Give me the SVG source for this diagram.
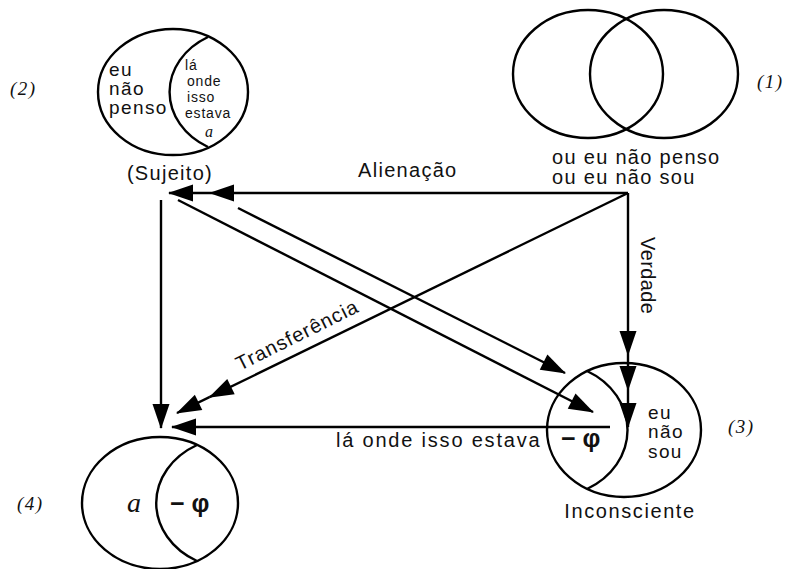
<svg xmlns="http://www.w3.org/2000/svg" width="787" height="569" viewBox="0 0 787 569">
<style>
.ln{fill:none;stroke:#000;stroke-width:2.4}
.sh{fill:none;stroke:#000;stroke-width:2.4}
.t{font-family:"Liberation Sans",Arial,sans-serif;font-size:20px;letter-spacing:1.3px;fill:#111}
.c{font-family:"Liberation Sans",Arial,sans-serif;font-size:19px;letter-spacing:1.4px;fill:#111}
.s{font-family:"Liberation Sans",Arial,sans-serif;font-size:14px;letter-spacing:0.8px;fill:#111}
.n{font-family:"Liberation Serif","Times New Roman",serif;font-style:italic;font-size:19px;letter-spacing:1.5px;fill:#111}
.ia{font-family:"Liberation Serif","Times New Roman",serif;font-style:italic;font-size:28px;fill:#111}
.phi{font-family:"Liberation Sans",Arial,sans-serif;font-weight:bold;font-size:25px;fill:#111}
</style>
<defs>
<marker id="ah" markerUnits="userSpaceOnUse" markerWidth="30" markerHeight="22" viewBox="-27 -11 29 22" refX="0" refY="0" orient="auto">
<path d="M1,0 L-24,-8.5 L-24,8.5 Z" fill="#000"/>
</marker>
</defs>

<g id="node1">
<ellipse class="sh" cx="588" cy="74" rx="75" ry="64"/>
<ellipse class="sh" cx="664" cy="74" rx="74" ry="64"/>
<text class="t" x="552" y="164">ou eu não penso</text>
<text class="t" x="552" y="184">ou eu não sou</text>
<text class="n" x="757" y="88">(1)</text>
</g>

<g id="node2">
<ellipse class="sh" cx="173" cy="92" rx="75" ry="63"/>
<path class="sh" d="M208,37 A75,63 0 0 0 208,147"/>
<text class="c" x="109" y="76">eu</text>
<text class="c" x="109" y="95">não</text>
<text class="c" x="109" y="114">penso</text>
<text class="s" x="185" y="70">lá</text>
<text class="s" x="187" y="86">onde</text>
<text class="s" x="187" y="102">isso</text>
<text class="s" x="185" y="118">estava</text>
<text class="ia" x="209" y="137" text-anchor="middle" style="font-size:16px">a</text>
<text class="t" x="170" y="180" text-anchor="middle">(Sujeito)</text>
<text class="n" x="10" y="95">(2)</text>
</g>

<g id="node3">
<ellipse class="sh" cx="624" cy="430" rx="77" ry="67"/>
<path class="sh" d="M587,371 A77,67 0 0 1 587,489"/>
<text class="c" x="648" y="419">eu</text>
<text class="c" x="648" y="438">não</text>
<text class="c" x="648" y="458">sou</text>
<text class="phi" x="561" y="447">− φ</text>
<text class="t" x="630" y="518" text-anchor="middle" style="letter-spacing:1.6px">Inconsciente</text>
<text class="n" x="728" y="433">(3)</text>
</g>

<g id="node4">
<ellipse class="sh" cx="160" cy="503" rx="78" ry="66"/>
<path class="sh" d="M197,445 A78,66 0 0 0 197,561"/>
<text class="ia" x="127" y="512">a</text>
<text class="phi" x="170" y="512">− φ</text>
<text class="n" x="17" y="510">(4)</text>
</g>

<g id="connectors">
<path class="ln" d="M628,193 L210,193" marker-end="url(#ah)"/>
<path class="ln" d="M210,193 L169,193" marker-end="url(#ah)"/>
<path class="ln" d="M628,193 L628,355" marker-end="url(#ah)"/>
<path class="ln" d="M628,355 L628,390" marker-end="url(#ah)"/>
<path class="ln" d="M628,390 L628,427" marker-end="url(#ah)"/>
<path class="ln" d="M628,193 L209.4,397.2" marker-end="url(#ah)"/>
<path class="ln" d="M209.4,397.2 L177,413" marker-end="url(#ah)"/>
<path class="ln" d="M161,200 L161,428" marker-end="url(#ah)"/>
<path class="ln" d="M610,427 L172,427" marker-end="url(#ah)"/>
<path class="ln" d="M178,200 L593,412" marker-end="url(#ah)"/>
<path class="ln" d="M238,208 L565,373" marker-end="url(#ah)"/>
<text class="t" x="358" y="177">Alienação</text>
<text class="t" transform="translate(641,237) rotate(90)" style="letter-spacing:0.4px">Verdade</text>
<text class="t" transform="translate(240,371) rotate(-26.5)" style="letter-spacing:1px">Transferência</text>
<text class="t" x="336" y="447" style="letter-spacing:1.8px">lá onde isso estava</text>
</g>
</svg>
